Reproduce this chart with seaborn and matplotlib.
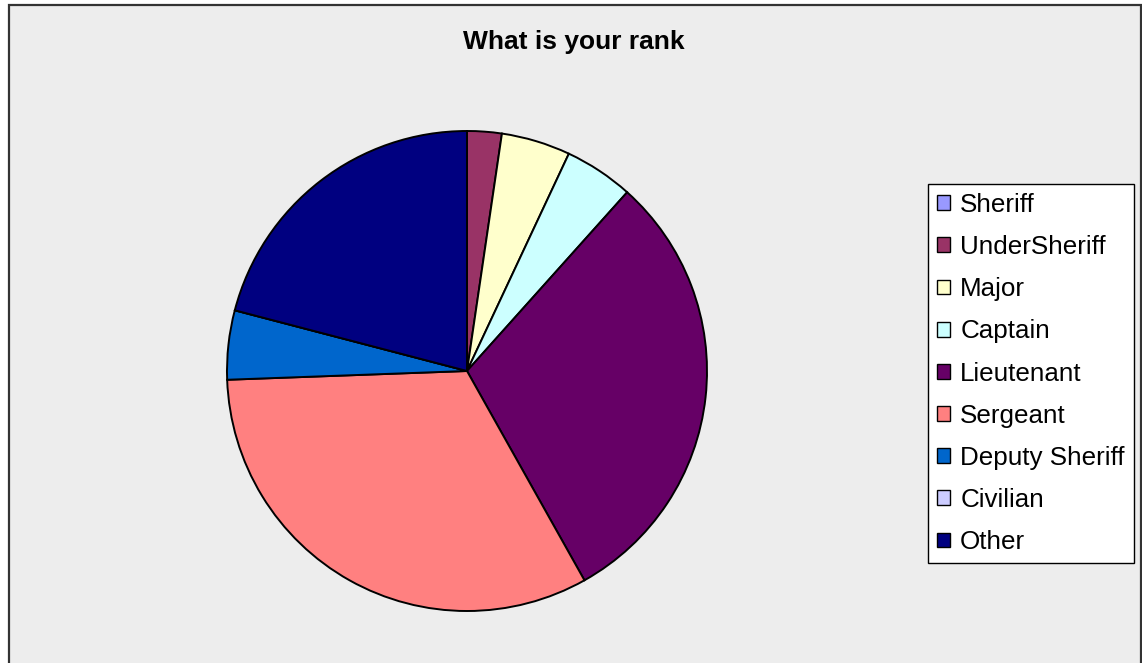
import matplotlib
matplotlib.use('Agg')
import matplotlib.pyplot as plt
import seaborn as sns
from matplotlib.patches import Patch, Rectangle

ranks = ['Sheriff', 'UnderSheriff', 'Major', 'Captain', 'Lieutenant',
         'Sergeant', 'Deputy Sheriff', 'Civilian', 'Other']
counts = [0, 1, 2, 2, 13, 14, 2, 0, 9]
colors = ['#9999FF', '#993366', '#FFFFCC', '#CCFFFF', '#660066',
          '#FF8080', '#0066CC', '#CCCCFF', '#000080']
title = 'What is your rank'

sns.set_style('white')
plt.rcParams['font.family'] = ['Liberation Sans', 'DejaVu Sans']
plt.rcParams['text.color'] = 'black'

W, H = 1142, 663
fig = plt.figure(figsize=(W / 100, H / 100), dpi=100, facecolor='white')

# grey chart area with dark border (open at the bottom)
fig.patches.append(Rectangle((8.5 / W, -0.05), (1141 - 8.5) / W, (H - 5.5) / H + 0.05,
                             transform=fig.transFigure, facecolor='#EDEDED',
                             edgecolor='#333333', linewidth=1.6, zorder=-5))

ax = fig.add_axes([227 / W, 52 / H, 480 / W, 480 / H])
ax.set_zorder(2)
pal = sns.color_palette(colors)
ax.pie(counts, colors=pal, startangle=90, counterclock=False, radius=1,
       wedgeprops=dict(edgecolor='black', linewidth=1.4))
ax.set_xlim(-1, 1)
ax.set_ylim(-1, 1)
ax.set_aspect('equal')
ax.axis('off')

fig.text(574 / W, 1 - 42 / H, title, ha='center', va='center',
         fontsize=19, fontweight='bold')

handles = [Patch(facecolor=c, edgecolor='black', linewidth=1.0) for c in pal]
leg = fig.legend(handles, ranks, loc='upper left',
                 bbox_to_anchor=(928 / W, 1 - 184 / H), bbox_transform=fig.transFigure,
                 fontsize=18.7, frameon=True, fancybox=False, shadow=False, framealpha=1,
                 handlelength=0.5, handleheight=0.5, handletextpad=0.4,
                 labelspacing=0.7, borderpad=0.34, borderaxespad=0)
leg.get_frame().set_edgecolor('black')
leg.get_frame().set_linewidth(1.0)
leg.get_frame().set_facecolor('white')
leg.set_zorder(3)

fig.savefig('out.png', dpi=100, facecolor='white')
